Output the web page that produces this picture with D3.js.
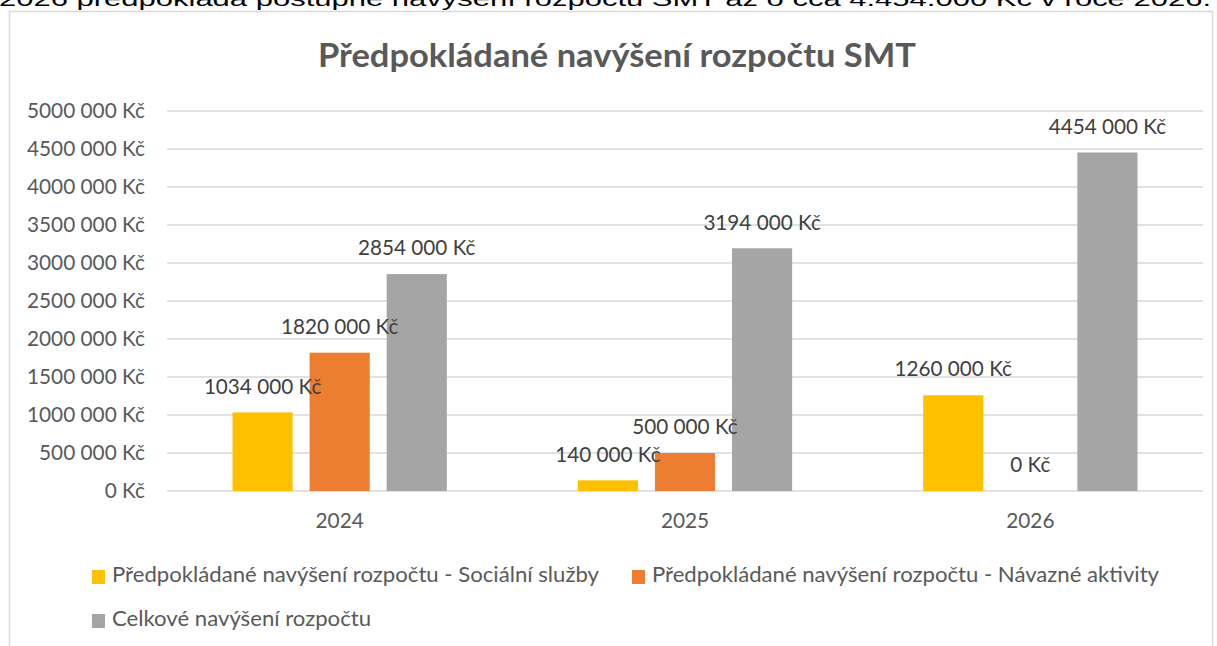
<!DOCTYPE html>
<html><head><meta charset="utf-8">
<script src="https://cdn.jsdelivr.net/npm/d3@7"></script>
<style>
html,body{margin:0;padding:0;background:#fff;overflow:hidden;}
svg{display:block;}
</style></head>
<body>
<script>
const categories = ["2024", "2025", "2026"];
const seriesNames = [
  "Předpokládané navýšení rozpočtu - Sociální služby",
  "Předpokládané navýšení rozpočtu - Návazné aktivity",
  "Celkové navýšení rozpočtu"
];
const socialni = [1034000, 140000, 1260000];
const navazne = [1820000, 500000, 0];
const celkove = [2854000, 3194000, 4454000];
const yTicks = [0, 500000, 1000000, 1500000, 2000000, 2500000, 3000000, 3500000, 4000000, 4500000, 5000000];
const colors = ["#FFC000", "#ED7D31", "#A5A5A5"];
const titleText = "Předpokládané navýšení rozpočtu SMT";
const topText = "2026 předpokládá postupné navýšení rozpočtu SMT až o cca 4.454.000 Kč v roce 2026.";

const W = 1217, H = 646;
const font = "Lato, 'Open Sans', sans-serif";
const svg = d3.select("body").append("svg").attr("width", W).attr("height", H);

const seriesValues = [socialni, navazne, celkove];
const fmtLabel = v => v === 0 ? "0 Kč" : d3.format(",")(v).replace(/,(\d{3})$/, " $1").replace(/,/g, "") + " Kč";

// clipped paragraph text above the chart (only its lower part is visible in the picture)
svg.append("text").attr("x", -1).attr("y", 6)
  .attr("font-family", "'Liberation Sans', Arial, sans-serif").attr("font-size", 21)
  .attr("fill", "#000").attr("textLength", 1212).attr("lengthAdjust", "spacingAndGlyphs")
  .text(topText);

// chart border
svg.append("rect").attr("x", 9.5).attr("y", 11.5).attr("width", 1203).attr("height", 700)
  .attr("fill", "#fff").attr("stroke", "#d9d9d9").attr("stroke-width", 1.5);

const plot = {left: 167, right: 1203, top: 111, bottom: 491};
const y = d3.scaleLinear().domain([0, 5000000]).range([plot.bottom, plot.top]);
const x0 = d3.scaleBand().domain(categories).range([plot.left, plot.right]).padding(0);
const x1 = d3.scaleBand().domain(d3.range(3)).range([0, x0.bandwidth()])
  .paddingInner(0.22).paddingOuter(0.85);

// gridlines
svg.append("g").selectAll("line").data(yTicks).join("line")
  .attr("x1", plot.left).attr("x2", plot.right)
  .attr("y1", d => y(d)).attr("y2", d => y(d))
  .attr("stroke", "#d9d9d9").attr("stroke-width", 1.5);

// y axis labels
const yAxis = d3.axisLeft(y).tickValues(yTicks).tickSize(0).tickPadding(22).tickFormat(fmtLabel);
const gy = svg.append("g").attr("transform", `translate(${plot.left},0)`).call(yAxis);
gy.select(".domain").remove();
gy.selectAll("text").attr("font-family", font).attr("font-size", 20.8).attr("fill", "#595959");

// x axis labels
const xAxis = d3.axisBottom(x0).tickSize(0).tickPadding(22);
const gx = svg.append("g").attr("transform", `translate(0,${plot.bottom})`).call(xAxis);
gx.select(".domain").remove();
gx.selectAll("text").attr("font-family", font).attr("font-size", 20.8).attr("fill", "#595959");

// bars
const data = [];
categories.forEach((c, i) => seriesValues.forEach((s, j) => data.push({c, j, v: s[i]})));
svg.append("g").selectAll("rect").data(data).join("rect")
  .attr("x", d => x0(d.c) + x1(d.j)).attr("width", x1.bandwidth())
  .attr("y", d => y(d.v)).attr("height", d => y(0) - y(d.v))
  .attr("fill", d => colors[d.j]);

// data labels
svg.append("g").selectAll("text").data(data).join("text")
  .attr("x", d => x0(d.c) + x1(d.j) + x1.bandwidth() / 2)
  .attr("y", d => y(d.v) - 24)
  .attr("text-anchor", "middle").attr("dominant-baseline", "middle")
  .attr("font-family", font).attr("font-size", 20.7).attr("fill", "#404040")
  .text(d => fmtLabel(d.v));

// title
svg.append("text").attr("x", 617).attr("y", 59).attr("text-anchor", "middle")
  .attr("dominant-baseline", "middle")
  .attr("font-family", font).attr("font-size", 33).attr("font-weight", "bold").attr("fill", "#595959")
  .attr("textLength", 598).attr("lengthAdjust", "spacingAndGlyphs")
  .text(titleText);

// legend
const legendPos = [{x: 92, y: 577}, {x: 632, y: 577}, {x: 92, y: 621}];
const legendLen = [487, 507, 259];
const lg = svg.append("g").selectAll("g").data(seriesNames).join("g")
  .attr("transform", (d, i) => `translate(${legendPos[i].x},${legendPos[i].y})`);
lg.append("rect").attr("x", 0).attr("y", -7).attr("width", 13).attr("height", 14).attr("fill", (d, i) => colors[i]);
lg.append("text").attr("x", 20).attr("y", 0).attr("dominant-baseline", "middle")
  .attr("font-family", font).attr("font-size", 21.5).attr("fill", "#595959")
  .attr("textLength", (d, i) => legendLen[i]).attr("lengthAdjust", "spacingAndGlyphs")
  .text(d => d);
</script>
</body></html>
